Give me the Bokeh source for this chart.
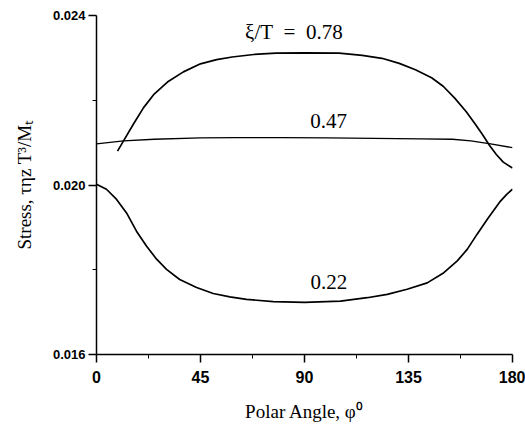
from bokeh.plotting import figure
from bokeh.models import FixedTicker, PrintfTickFormatter, Range1d
from bokeh.core.properties import value
from bokeh.embed import file_html
from bokeh.resources import INLINE

# ---- data ----
phi_078 = [9.1, 11.7, 16.0, 20.3, 24.7, 30.7, 37.6, 45.0, 52.0, 58.7, 68.0, 77.7, 90.0, 105.0,
           115.0, 123.5, 131.0, 138.0, 145.0, 150.0, 155.0, 160.0, 164.0, 167.0, 170.0, 173.0, 176.0, 180.0]
s_078 = [0.02080, 0.02104, 0.02144, 0.02182, 0.02213, 0.02243, 0.02267, 0.02286, 0.02296, 0.02302, 0.02308, 0.02311, 0.02312, 0.02311,
         0.02306, 0.02299, 0.02287, 0.02272, 0.02253, 0.02233, 0.02205, 0.02173, 0.02143, 0.02119, 0.02094, 0.02072, 0.02054, 0.02040]

phi_047 = [0.0, 11.7, 25.0, 45.0, 60.0, 80.0, 100.0, 120.0, 140.0, 154.0, 162.0, 170.5, 180.0]
s_047 = [0.02097, 0.02104, 0.02108, 0.02111, 0.02112, 0.02112, 0.02111, 0.02110, 0.02109, 0.02108, 0.02104, 0.02097, 0.02088]

phi_022 = [0.0, 4.3, 8.7, 13.0, 17.3, 21.6, 26.0, 30.3, 36.0, 43.3, 50.5, 57.7, 64.9, 76.5, 90.0, 105.6,
           117.1, 125.8, 134.4, 143.1, 150.3, 156.1, 160.4, 164.7, 169.1, 174.8, 177.5, 180.0]
s_022 = [0.02002, 0.01990, 0.01966, 0.01934, 0.01891, 0.01856, 0.01825, 0.01801, 0.01777, 0.01758, 0.01744, 0.01736, 0.01730, 0.01725, 0.01723, 0.01726,
         0.01734, 0.01742, 0.01754, 0.01769, 0.01793, 0.01821, 0.01848, 0.01884, 0.01919, 0.01962, 0.01978, 0.01990]

x_ticks = [0, 45, 90, 135, 180]
x_minor = [22.5, 67.5, 112.5, 157.5]
y_ticks = [0.016, 0.020, 0.024]
y_minor = [0.018, 0.022]

p = figure(width=525, height=428, output_backend="svg", toolbar_location=None,
           x_range=Range1d(0, 180), y_range=Range1d(0.016, 0.024),
           min_border_left=96, min_border_right=13, min_border_top=15, min_border_bottom=74)
p.outline_line_color = None
p.xgrid.visible = False
p.ygrid.visible = False
p.background_fill_color = "white"
p.border_fill_color = "white"

for xs, ys, w in [(phi_078, s_078, 1.7), (phi_047, s_047, 1.3), (phi_022, s_022, 1.7)]:
    p.line(xs, ys, line_color="black", line_width=w, line_join="round")

serif = value("Liberation Serif")
p.text(x=[85.4], y=[0.02360], text=["ξ/T\u2002=\u20020.78"], text_font=serif, text_font_size="21px",
       text_align="center", text_baseline="middle", text_color="black")
p.text(x=[100.4], y=[0.02151], text=["0.47"], text_font=serif, text_font_size="21px",
       text_align="center", text_baseline="middle", text_color="black")
p.text(x=[100.6], y=[0.01770], text=["0.22"], text_font=serif, text_font_size="21px",
       text_align="center", text_baseline="middle", text_color="black")

xa = p.xaxis[0]
xa.ticker = FixedTicker(ticks=x_ticks, minor_ticks=x_minor)
xa.axis_label = "Polar Angle, φ⁰"
xa.axis_label_text_font = "Liberation Serif"
xa.axis_label_text_font_style = "normal"
xa.axis_label_text_font_size = "19px"
xa.axis_label_text_color = "black"
xa.axis_label_standoff = 15
xa.major_label_text_font = "Liberation Sans"
xa.major_label_text_font_style = "bold"
xa.major_label_text_font_size = "16px"
xa.major_label_text_color = "black"
xa.major_label_standoff = 8
xa.major_tick_out = 8
xa.major_tick_in = 0
xa.minor_tick_out = 4
xa.minor_tick_in = 0
xa.axis_line_width = 1.5
xa.axis_line_color = "black"
xa.major_tick_line_width = 1.5

ya = p.yaxis[0]
ya.ticker = FixedTicker(ticks=y_ticks, minor_ticks=y_minor)
ya.formatter = PrintfTickFormatter(format="%.3f")
ya.axis_label = "Stress, τηz T³/Mₜ"
ya.axis_label_text_font = "Liberation Serif"
ya.axis_label_text_font_style = "normal"
ya.axis_label_text_font_size = "19px"
ya.axis_label_text_color = "black"
ya.axis_label_standoff = 15
ya.major_label_text_font = "Liberation Sans"
ya.major_label_text_font_style = "bold"
ya.major_label_text_font_size = "13px"
ya.major_label_text_color = "black"
ya.major_label_standoff = 3
ya.major_tick_out = 8
ya.major_tick_in = 0
ya.minor_tick_out = 4
ya.minor_tick_in = 0
ya.axis_line_width = 1.5
ya.axis_line_color = "black"
ya.major_tick_line_width = 1.5

open("out.html", "w").write(file_html(p, INLINE))
